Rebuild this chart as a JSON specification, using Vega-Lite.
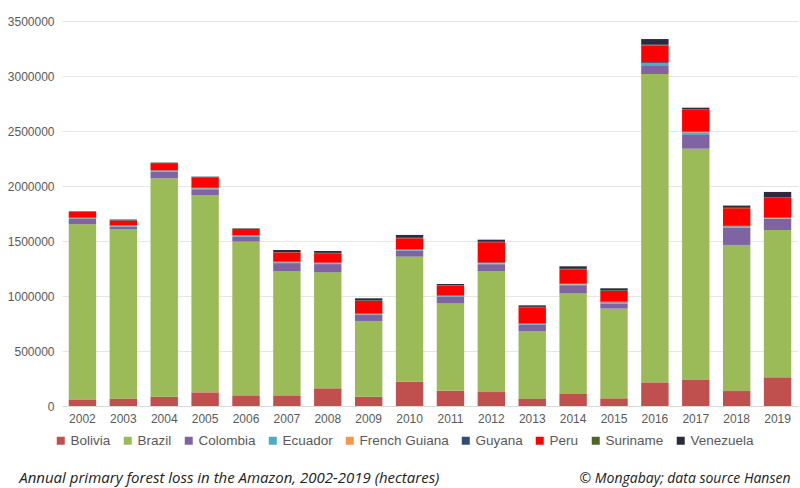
{
  "$schema": "https://vega.github.io/schema/vega-lite/v6.json",
  "autosize": {"type": "none"},
  "width": 736,
  "height": 385,
  "padding": {"left": 62, "top": 21, "right": 2, "bottom": 82},
  "background": "white",
  "config": {
    "view": {"stroke": null},
    "font": "Liberation Sans"
  },
  "title": {
    "text": "Annual primary forest loss in the Amazon, 2002-2019 (hectares)",
    "orient": "bottom",
    "anchor": "start",
    "frame": "bounds",
    "font": "Open Sans",
    "fontStyle": "italic",
    "fontWeight": "normal",
    "fontSize": 15,
    "color": "#222222",
    "offset": -14,
    "dx": 12
  },
  "data": {
    "values": [
      {"year": "2002", "Bolivia": 60000, "Brazil": 1592000, "Colombia": 48000, "Ecuador": 6000, "French Guiana": 2000, "Guyana": 4000, "Peru": 52000, "Suriname": 2000, "Venezuela": 4000},
      {"year": "2003", "Bolivia": 67000, "Brazil": 1539000, "Colombia": 24000, "Ecuador": 6000, "French Guiana": 2000, "Guyana": 4000, "Peru": 43000, "Suriname": 2000, "Venezuela": 8000},
      {"year": "2004", "Bolivia": 85000, "Brazil": 1985000, "Colombia": 60000, "Ecuador": 8000, "French Guiana": 2000, "Guyana": 4000, "Peru": 64000, "Suriname": 2000, "Venezuela": 3000},
      {"year": "2005", "Bolivia": 124000, "Brazil": 1794000, "Colombia": 52000, "Ecuador": 8000, "French Guiana": 2000, "Guyana": 4000, "Peru": 96000, "Suriname": 2000, "Venezuela": 3000},
      {"year": "2006", "Bolivia": 97000, "Brazil": 1397000, "Colombia": 45000, "Ecuador": 8000, "French Guiana": 2000, "Guyana": 4000, "Peru": 56000, "Suriname": 2000, "Venezuela": 4000},
      {"year": "2007", "Bolivia": 97000, "Brazil": 1130000, "Colombia": 72000, "Ecuador": 7000, "French Guiana": 2000, "Guyana": 4000, "Peru": 85000, "Suriname": 3000, "Venezuela": 18000},
      {"year": "2008", "Bolivia": 161000, "Brazil": 1054000, "Colombia": 75000, "Ecuador": 7000, "French Guiana": 2000, "Guyana": 5000, "Peru": 85000, "Suriname": 3000, "Venezuela": 17000},
      {"year": "2009", "Bolivia": 85000, "Brazil": 688000, "Colombia": 54000, "Ecuador": 6000, "French Guiana": 2000, "Guyana": 5000, "Peru": 116000, "Suriname": 3000, "Venezuela": 20000},
      {"year": "2010", "Bolivia": 221000, "Brazil": 1137000, "Colombia": 54000, "Ecuador": 6000, "French Guiana": 3000, "Guyana": 6000, "Peru": 98000, "Suriname": 4000, "Venezuela": 26000},
      {"year": "2011", "Bolivia": 139000, "Brazil": 794000, "Colombia": 60000, "Ecuador": 7000, "French Guiana": 2000, "Guyana": 6000, "Peru": 87000, "Suriname": 3000, "Venezuela": 11000},
      {"year": "2012", "Bolivia": 127000, "Brazil": 1100000, "Colombia": 62000, "Ecuador": 8000, "French Guiana": 3000, "Guyana": 6000, "Peru": 183000, "Suriname": 4000, "Venezuela": 19000},
      {"year": "2013", "Bolivia": 64000, "Brazil": 618000, "Colombia": 56000, "Ecuador": 7000, "French Guiana": 2000, "Guyana": 5000, "Peru": 146000, "Suriname": 3000, "Venezuela": 14000},
      {"year": "2014", "Bolivia": 109000, "Brazil": 915000, "Colombia": 74000, "Ecuador": 8000, "French Guiana": 3000, "Guyana": 6000, "Peru": 128000, "Suriname": 4000, "Venezuela": 23000},
      {"year": "2015", "Bolivia": 70000, "Brazil": 815000, "Colombia": 47000, "Ecuador": 7000, "French Guiana": 3000, "Guyana": 6000, "Peru": 98000, "Suriname": 4000, "Venezuela": 20000},
      {"year": "2016", "Bolivia": 215000, "Brazil": 2803000, "Colombia": 80000, "Ecuador": 11000, "French Guiana": 5000, "Guyana": 12000, "Peru": 150000, "Suriname": 8000, "Venezuela": 52000},
      {"year": "2017", "Bolivia": 242000, "Brazil": 2097000, "Colombia": 125000, "Ecuador": 21000, "French Guiana": 4000, "Guyana": 8000, "Peru": 194000, "Suriname": 6000, "Venezuela": 15000},
      {"year": "2018", "Bolivia": 136000, "Brazil": 1328000, "Colombia": 158000, "Ecuador": 8000, "French Guiana": 3000, "Guyana": 5000, "Peru": 160000, "Suriname": 4000, "Venezuela": 20000},
      {"year": "2019", "Bolivia": 261000, "Brazil": 1339000, "Colombia": 100000, "Ecuador": 6000, "French Guiana": 3000, "Guyana": 6000, "Peru": 176000, "Suriname": 5000, "Venezuela": 50000}
    ]
  },
  "transform": [
    {"fold": ["Bolivia", "Brazil", "Colombia", "Ecuador", "French Guiana", "Guyana", "Peru", "Suriname", "Venezuela"], "as": ["country", "loss"]}
  ],
  "mark": {"type": "bar"},
  "encoding": {
    "x": {
      "field": "year",
      "type": "ordinal",
      "scale": {"paddingInner": 0.33, "paddingOuter": 0.165},
      "axis": {
        "title": "© Mongabay; data source Hansen",
        "titleFont": "Open Sans",
        "titleFontStyle": "italic",
        "titleFontWeight": "normal",
        "titleFontSize": 14,
        "titleColor": "#222222",
        "titleAnchor": "end",
        "titleAlign": "right",
        "titleBaseline": "middle",
        "titleX": 728,
        "titleY": 72,
        "labelAngle": 0,
        "labelFontSize": 12,
        "labelColor": "#595959",
        "labelPadding": 7,
        "ticks": false,
        "domain": true,
        "domainColor": "#d9d9d9",
        "grid": false
      }
    },
    "y": {
      "field": "loss",
      "type": "quantitative",
      "stack": "zero",
      "scale": {"domain": [0, 3500000], "nice": false},
      "axis": {
        "title": null,
        "values": [0, 500000, 1000000, 1500000, 2000000, 2500000, 3000000, 3500000],
        "format": "d",
        "labelFontSize": 12,
        "labelColor": "#595959",
        "labelPadding": 8,
        "ticks": false,
        "domain": false,
        "gridColor": "#e6e6e6",
        "gridWidth": 1
      }
    },
    "color": {
      "field": "country",
      "type": "nominal",
      "scale": {
        "domain": ["Bolivia", "Brazil", "Colombia", "Ecuador", "French Guiana", "Guyana", "Peru", "Suriname", "Venezuela"],
        "range": ["#C0504D", "#9BBB59", "#8064A2", "#4BACC6", "#F79646", "#2C4D75", "#FF0000", "#4F6228", "#2B2B40"]
      },
      "legend": {
        "title": null,
        "orient": "none",
        "direction": "horizontal",
        "columns": 9,
        "gridAlign": "none",
        "legendX": -8,
        "legendY": 413,
        "symbolType": "square",
        "symbolSize": 64,
        "symbolStrokeWidth": 0,
        "labelFontSize": 13.5,
        "labelColor": "#595959",
        "labelOffset": 3,
        "columnPadding": 10
      }
    },
    "order": {"field": "country", "type": "nominal", "sort": "ascending"}
  }
}
